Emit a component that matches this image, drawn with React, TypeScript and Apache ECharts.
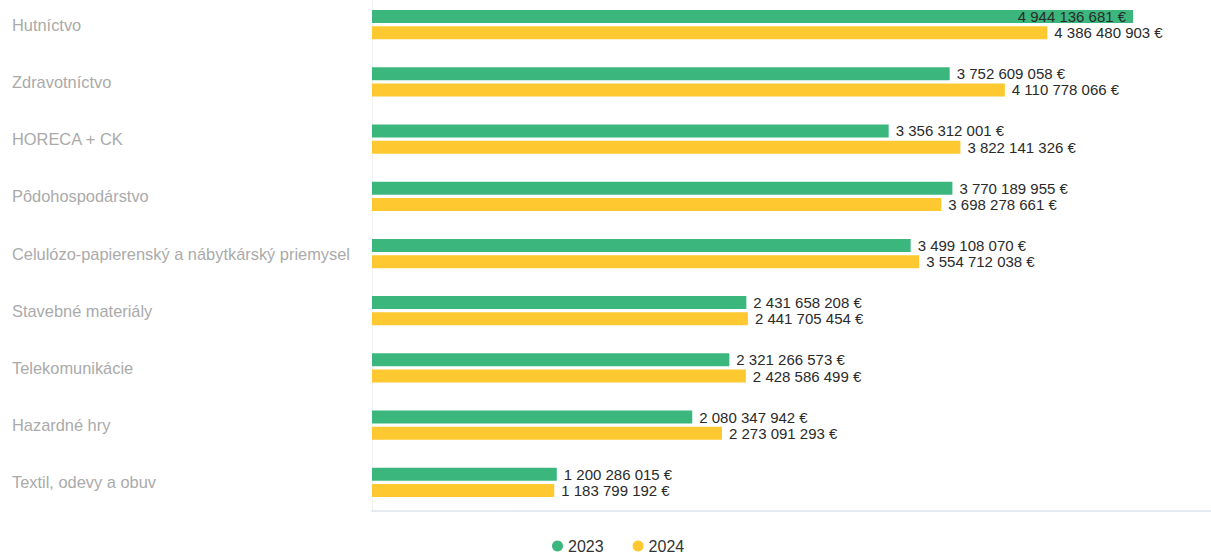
import React, { useEffect, useRef } from "react";
import * as echarts from "echarts";

const categories = [
  "Hutníctvo",
  "Zdravotníctvo",
  "HORECA + CK",
  "Pôdohospodárstvo",
  "Celulózo-papierenský a nábytkárský priemysel",
  "Stavebné materiály",
  "Telekomunikácie",
  "Hazardné hry",
  "Textil, odevy a obuv",
];
const values2023 = [4944136681, 3752609058, 3356312001, 3770189955, 3499108070, 2431658208, 2321266573, 2080347942, 1200286015];
const values2024 = [4386480903, 4110778066, 3822141326, 3698278661, 3554712038, 2441705454, 2428586499, 2273091293, 1183799192];
const seriesNames = ["2023", "2024"];

const fmt = (v: number) => String(Math.round(v)).replace(/\B(?=(\d{3})+(?!\d))/g, " ") + " €";

export default function App() {
  const ref = useRef<HTMLDivElement>(null);
  useEffect(() => {
    if (!ref.current) return;
    const chart = echarts.init(ref.current, undefined, { renderer: "svg" });
    const maxVal = Math.max(...values2023, ...values2024);
    const labelStyle = {
      show: true,
      position: "right" as const,
      distance: 7,
      color: "#2a2a2a",
      fontSize: 15,
      fontFamily: "Liberation Sans, Arial, sans-serif",
      formatter: (p: any) => fmt(p.value),
    };
    const mk = (vals: number[]) =>
      vals.map((v) =>
        v === maxVal
          ? { value: v, label: { position: "insideRight", distance: 7 } }
          : { value: v }
      );
    chart.setOption({
      animation: false,
      textStyle: { fontFamily: "Liberation Sans, Arial, sans-serif" },
      grid: { left: 372, right: 0, top: 0, bottom: 43, containLabel: false },
      legend: {
        top: 537,
        left: 547,
        padding: 5,
        icon: "circle",
        itemWidth: 11,
        itemHeight: 11,
        itemGap: 29,
        textStyle: { fontSize: 16, color: "#333" },
        data: seriesNames,
      },
      xAxis: {
        type: "value",
        min: 0,
        max: 5450000000,
        axisLabel: { show: false },
        splitLine: { show: false },
        axisTick: { show: false },
        axisLine: { show: true, lineStyle: { color: "#dde2ec", width: 1.5 } },
      },
      yAxis: {
        type: "category",
        inverse: true,
        data: categories,
        axisTick: { show: false },
        axisLine: { show: true, lineStyle: { color: "#f1f1f1" } },
        axisLabel: {
          align: "left",
          margin: 360,
          color: "#aaaaaa",
          fontSize: 16.4,
          padding: [5, 0, 0, 0],
        },
      },
      series: [
        {
          name: seriesNames[0],
          type: "bar",
          data: mk(values2023),
          barWidth: 13,
          barGap: "25%",
          itemStyle: { color: "#3bb77e" },
          label: labelStyle,
        },
        {
          name: seriesNames[1],
          type: "bar",
          data: mk(values2024),
          barWidth: 13,
          barGap: "25%",
          itemStyle: { color: "#fdc830" },
          label: labelStyle,
        },
      ],
    });
    return () => chart.dispose();
  }, []);
  return (
    <div
      ref={ref}
      style={{ position: "fixed", left: 0, top: -4, width: 1211, height: 558, background: "#fff" }}
    />
  );
}
